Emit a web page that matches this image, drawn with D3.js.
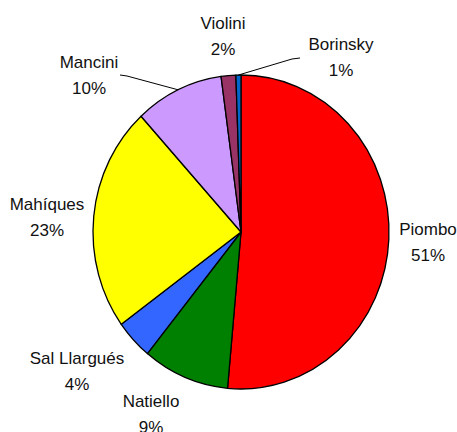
<!DOCTYPE html>
<html>
<head>
<meta charset="utf-8">
<script src="https://cdn.jsdelivr.net/npm/d3@7"></script>
<style>
  html, body { margin: 0; padding: 0; background: #fff; }
  svg { display: block; }
  text { font-family: "Liberation Sans", Arial, sans-serif; font-size: 17px; fill: #111; }
</style>
</head>
<body>
<svg id="chart" width="457" height="432"></svg>
<script>
// Data
const categories = ["Piombo", "Natiello", "Sal Llargués", "Mahíques", "Mancini", "Violini", "Borinsky"];
const values = [51.45, 9.45, 4.1, 23.2, 9.65, 1.6, 0.55];
const colors = ["#FF0000", "#008000", "#3366FF", "#FFFF00", "#CC99FF", "#993366", "#0066CC"];

// Layout (label anchor positions, first-line baseline)
const labelPos = [[428, 235], [151, 407], [77, 364], [47, 210], [89, 68], [223, 29], [341, 50]];
const leaderEnds = { 4: [[127, 76], [120, 75]], 6: [[292, 59], [300, 58]] };

const W = 457, H = 432;
const cx = 241, cy = 232, rx = 148, ry = 157;
const svg = d3.select("#chart");

const total = d3.sum(values);
const data = categories.map((c, i) => ({ name: c, value: values[i], color: colors[i], i }));

const pie = d3.pie().value(d => d.value).sort(null).startAngle(0).endAngle(2 * Math.PI);
const arcs = pie(data);
const arc = d3.arc().innerRadius(0).outerRadius(rx);

const g = svg.append("g").attr("transform", `translate(${cx},${cy}) scale(1,${ry / rx})`);
g.selectAll("path").data(arcs).join("path")
  .attr("d", arc)
  .attr("fill", d => d.data.color)
  .attr("stroke", "#000")
  .attr("stroke-width", 1.3)
  .attr("stroke-linejoin", "round")
  .attr("vector-effect", "non-scaling-stroke");

// Leader lines
arcs.forEach(a => {
  const ends = leaderEnds[a.index];
  if (!ends) return;
  const mid = (a.startAngle + a.endAngle) / 2;
  const p0 = [cx + rx * Math.sin(mid), cy - ry * Math.cos(mid)];
  const pts = [p0, ...ends];
  svg.append("path")
    .attr("d", d3.line()(pts))
    .attr("fill", "none")
    .attr("stroke", "#000")
    .attr("stroke-width", 1);
});

// Labels
const fmt = v => Math.round(v / total * 100) + "%";
arcs.forEach(a => {
  const [x, y] = labelPos[a.index];
  const t = svg.append("text").attr("text-anchor", "middle");
  t.append("tspan").attr("x", x).attr("y", y).text(a.data.name);
  t.append("tspan").attr("x", x).attr("y", y + 26).text(fmt(a.data.value));
});
</script>
</body>
</html>
